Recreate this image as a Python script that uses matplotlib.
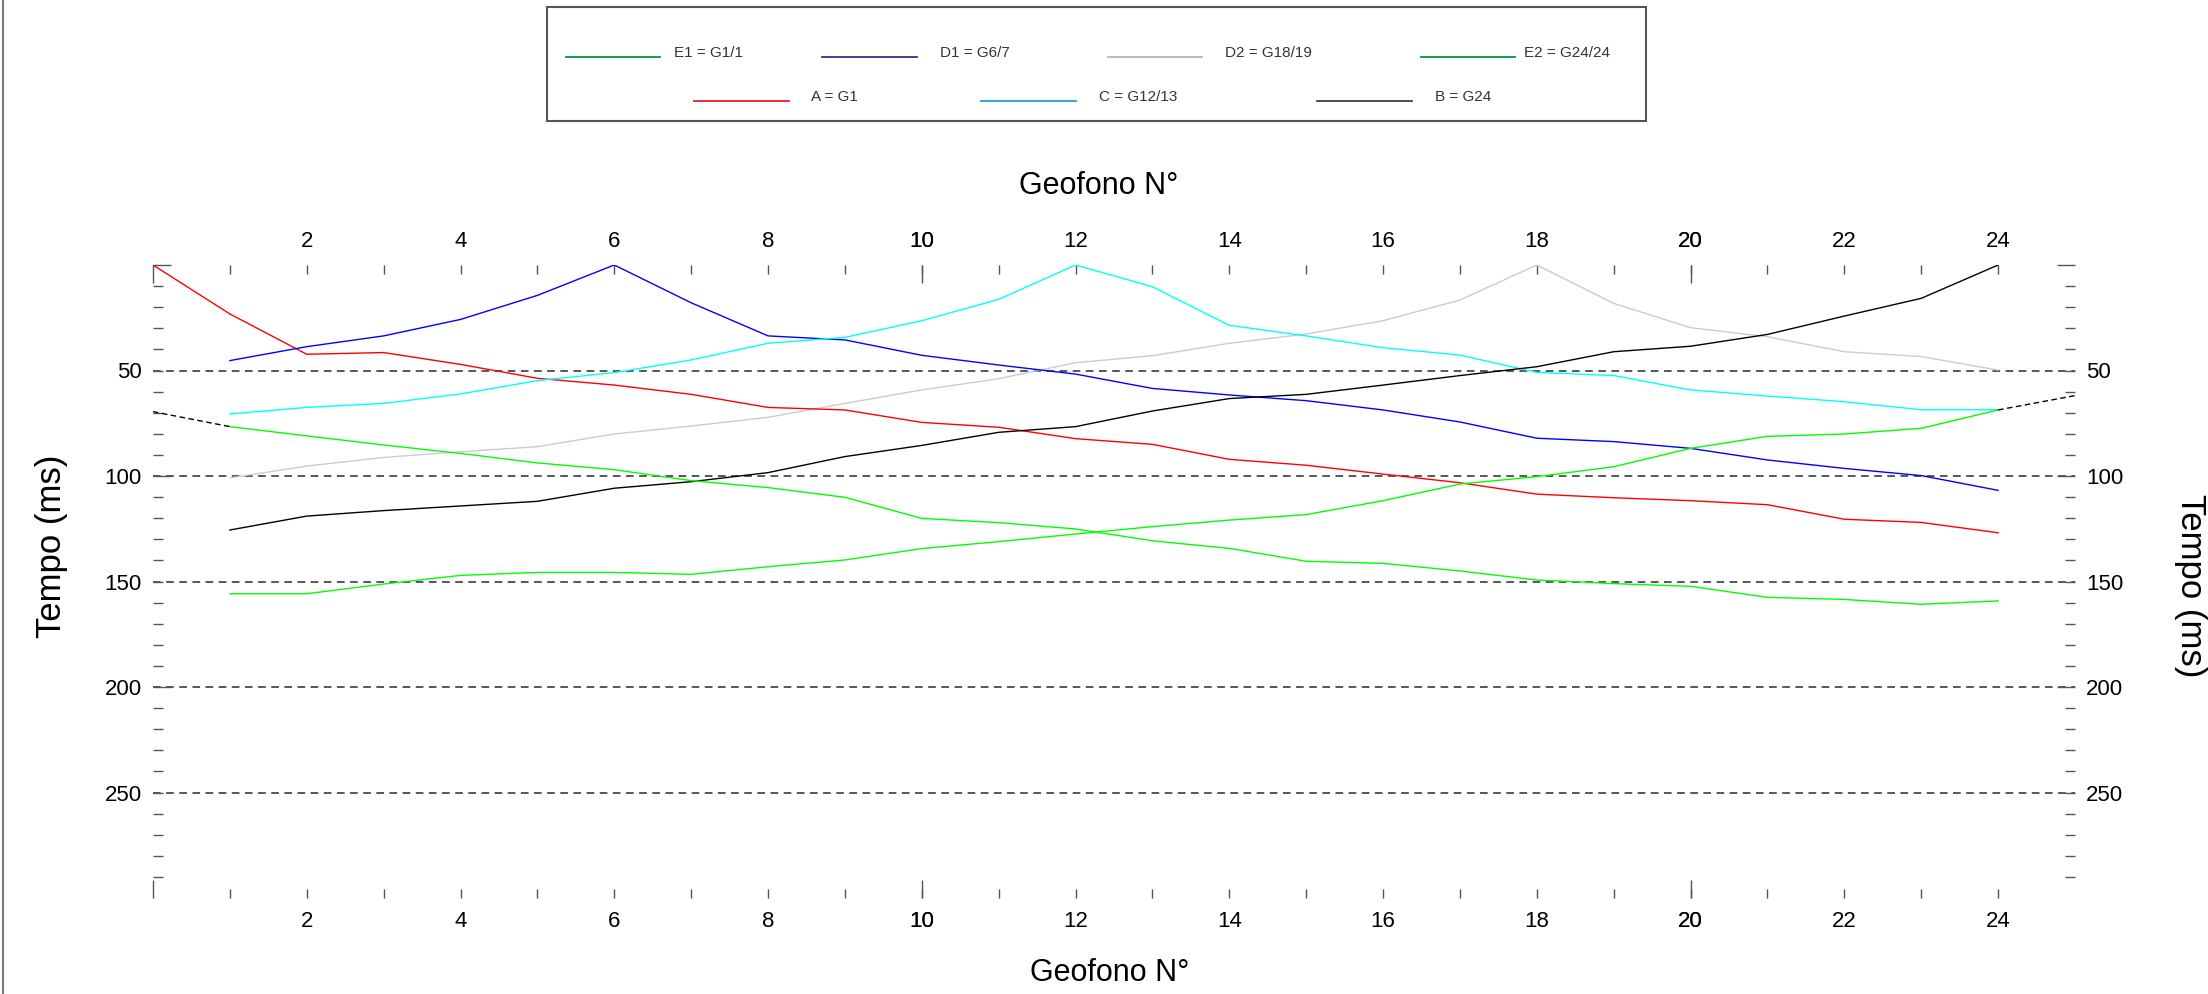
import matplotlib
matplotlib.use('Agg')
import matplotlib.pyplot as plt
from matplotlib.lines import Line2D
from matplotlib.patches import Rectangle
from matplotlib.ticker import FixedLocator, FuncFormatter

plt.rcParams['font.family'] = ['Liberation Sans', 'DejaVu Sans']

# geophone numbers
geofoni = list(range(1, 25))
geofoni_a = list(range(0, 25))

# first-arrival times (ms)
tempi_a = [0, 23.2, 42.3, 41.5, 47.1, 53.7, 56.9, 61.3, 67.5, 68.7, 74.6, 76.9,
           82.3, 85.0, 92.1, 94.9, 99.1, 103.2, 108.6, 110.3, 111.7, 113.6,
           120.5, 122.0, 126.9]
tempi_d1 = [45.3, 38.7, 33.6, 25.8, 14.4, 0, 17.9, 33.6, 35.5, 42.8, 47.4, 51.7,
            58.5, 61.6, 64.3, 68.7, 74.4, 82.1, 83.7, 86.9, 92.4, 96.4, 99.8, 106.8]
tempi_c = [70.6, 67.5, 65.6, 61.1, 54.8, 51.0, 45.0, 37.1, 34.3, 26.4, 16.3, 0,
           10.3, 28.6, 33.6, 39.2, 42.7, 50.9, 52.4, 59.2, 62.1, 64.8, 68.6, 68.6]
tempi_d2 = [100.9, 95.3, 91.2, 88.5, 86.1, 80.1, 76.3, 72.2, 65.6, 59.2, 53.9, 46.3,
            43.0, 37.1, 32.7, 26.4, 16.6, 0, 18.2, 29.7, 34.0, 41.1, 43.4, 49.8]
tempi_b = [125.6, 119.0, 116.4, 114.2, 112.0, 105.8, 102.7, 98.4, 90.8, 85.5, 79.3,
           76.6, 69.2, 63.3, 61.3, 56.9, 52.4, 48.2, 41.1, 38.5, 32.9, 24.2, 15.8, 0]
tempi_e1 = [76.6, 81.0, 85.3, 89.3, 93.8, 97.0, 102.2, 105.5, 110.1, 120.1, 122.1,
            125.1, 130.7, 134.3, 140.4, 141.4, 145.0, 149.3, 151.0, 152.3, 157.5,
            158.5, 160.8, 159.2]
tempi_e2 = [155.8, 155.8, 151.2, 147.1, 145.7, 145.7, 146.6, 143.0, 139.8, 134.4,
            131.1, 127.5, 124.0, 120.9, 118.3, 111.7, 103.8, 100.3, 95.6, 86.9,
            81.2, 80.1, 77.4, 68.7]

# dashed extrapolations at the ends
est_sx_x = [0, 1]
est_sx = [69.5, 76.6]
est_dx_x = [24, 25]
est_dx = [68.7, 61.9]

griglia_y = [50, 100, 150, 200, 250]

W, H = 2208, 994
fig = plt.figure(figsize=(W / 100, H / 100), dpi=100)
ax = fig.add_axes([153 / W, 1 - 898 / H, (2075 - 153) / W, (898 - 265) / H])

ax.hlines(griglia_y, 0, 25, colors='#2a2a2a', linestyles=(0, (5, 3.6)),
          linewidth=1.1, zorder=1)

lw = 1.0
ax.plot(geofoni_a, tempi_a, color='#ff0000', lw=lw, zorder=3)
ax.plot(geofoni, tempi_d1, color='#0000ff', lw=lw, zorder=3)
ax.plot(geofoni, tempi_c, color='#00ffff', lw=lw, zorder=3)
ax.plot(geofoni, tempi_d2, color='#cccccc', lw=lw, zorder=2)
ax.plot(geofoni, tempi_b, color='#000000', lw=lw, zorder=3)
ax.plot(geofoni, tempi_e1, color='#00ff00', lw=lw, zorder=3)
ax.plot(geofoni, tempi_e2, color='#00ff00', lw=lw, zorder=3)
ax.plot(est_sx_x, est_sx, color='#000000', lw=lw, ls=(0, (4, 2.5)), zorder=3)
ax.plot(est_dx_x, est_dx, color='#000000', lw=lw, ls=(0, (4, 2.5)), zorder=3)

ax.set_xlim(0, 25)
ax.set_ylim(300, 0)
for s in ax.spines.values():
    s.set_visible(False)

# x ticks: long at 0/10/20, short at every geophone (10 and 20 labelled twice)
ax.xaxis.remove_overlapping_locs = False
ax.xaxis.set_major_locator(FixedLocator([0, 10, 20]))
ax.xaxis.set_major_formatter(FuncFormatter(lambda v, p: '' if v == 0 else f'{int(v)}'))
ax.xaxis.set_minor_locator(FixedLocator(list(range(1, 25))))
ax.xaxis.set_minor_formatter(FuncFormatter(lambda v, p: f'{int(v)}' if int(v) % 2 == 0 else ''))

# y ticks: long at 0/100/200, short every 10 ms
ax.yaxis.set_major_locator(FixedLocator([0, 100, 200]))
ax.yaxis.set_major_formatter(FuncFormatter(lambda v, p: '' if v == 0 else f'{int(v)}'))
ax.yaxis.set_minor_locator(FixedLocator(list(range(10, 300, 10))))
ax.yaxis.set_minor_formatter(FuncFormatter(lambda v, p: f'{int(v)}' if int(v) % 50 == 0 else ''))

tick_kw = dict(direction='in', color='#555555', width=1.0, labelsize=16, labelcolor='black')
ax.tick_params(axis='x', which='both', top=True, bottom=True, labeltop=True, labelbottom=True, **tick_kw)
ax.tick_params(axis='y', which='both', left=True, right=True, labelleft=True, labelright=True, **tick_kw)
ax.tick_params(axis='x', which='major', length=12.7)
ax.tick_params(axis='x', which='minor', length=6.5)
ax.tick_params(axis='y', which='major', length=12.7)
ax.tick_params(axis='y', which='minor', length=7.2)
ax.tick_params(axis='x', which='both', pad=9.5)
ax.tick_params(axis='y', which='both', pad=8)

# axis titles
fig.text(1099 / W, 1 - 186 / H, 'Geofono N°', ha='center', va='center', fontsize=22)
fig.text(1110 / W, 1 - 973 / H, 'Geofono N°', ha='center', va='center', fontsize=22)
fig.text(52 / W, 1 - 546 / H, 'Tempo (ms)', ha='center', va='center', rotation=90, fontsize=25)
fig.text(2174 / W, 1 - 586 / H, 'Tempo (ms)', ha='left', va='center', rotation=270, fontsize=25)

# legend box
fig.add_artist(Rectangle((547 / W, 1 - 121 / H), (1646 - 547) / W, (121 - 7) / H,
                         transform=fig.transFigure, fill=False, edgecolor='#555555', lw=1.5))
voci = [
    ('E1 = G1/1', '#009444', 566, 660, 674, 56.7),
    ('D1 = G6/7', '#2e3192', 822, 917, 940, 56.7),
    ('D2 = G18/19', '#b3b3b3', 1108, 1202, 1225, 56.7),
    ('E2 = G24/24', '#009444', 1421, 1515, 1524, 56.7),
    ('A = G1', '#ed1c24', 694, 789, 811, 100.7),
    ('C = G12/13', '#1ba1e2', 981, 1076, 1099, 100.7),
    ('B = G24', '#404040', 1317, 1412, 1435, 100.7),
]
for testo, col, x0, x1, xt, yy in voci:
    fig.add_artist(Line2D([x0 / W, x1 / W], [1 - yy / H] * 2, transform=fig.transFigure,
                          color=col, lw=1.3))
    fig.text(xt / W, 1 - yy / H, testo, ha='left', va='baseline', fontsize=11, color='#333333')

# page border on the left
fig.add_artist(Line2D([2.5 / W, 2.5 / W], [0, 1], transform=fig.transFigure, color='#777777', lw=1.5))

fig.savefig('out.png', dpi=100)
